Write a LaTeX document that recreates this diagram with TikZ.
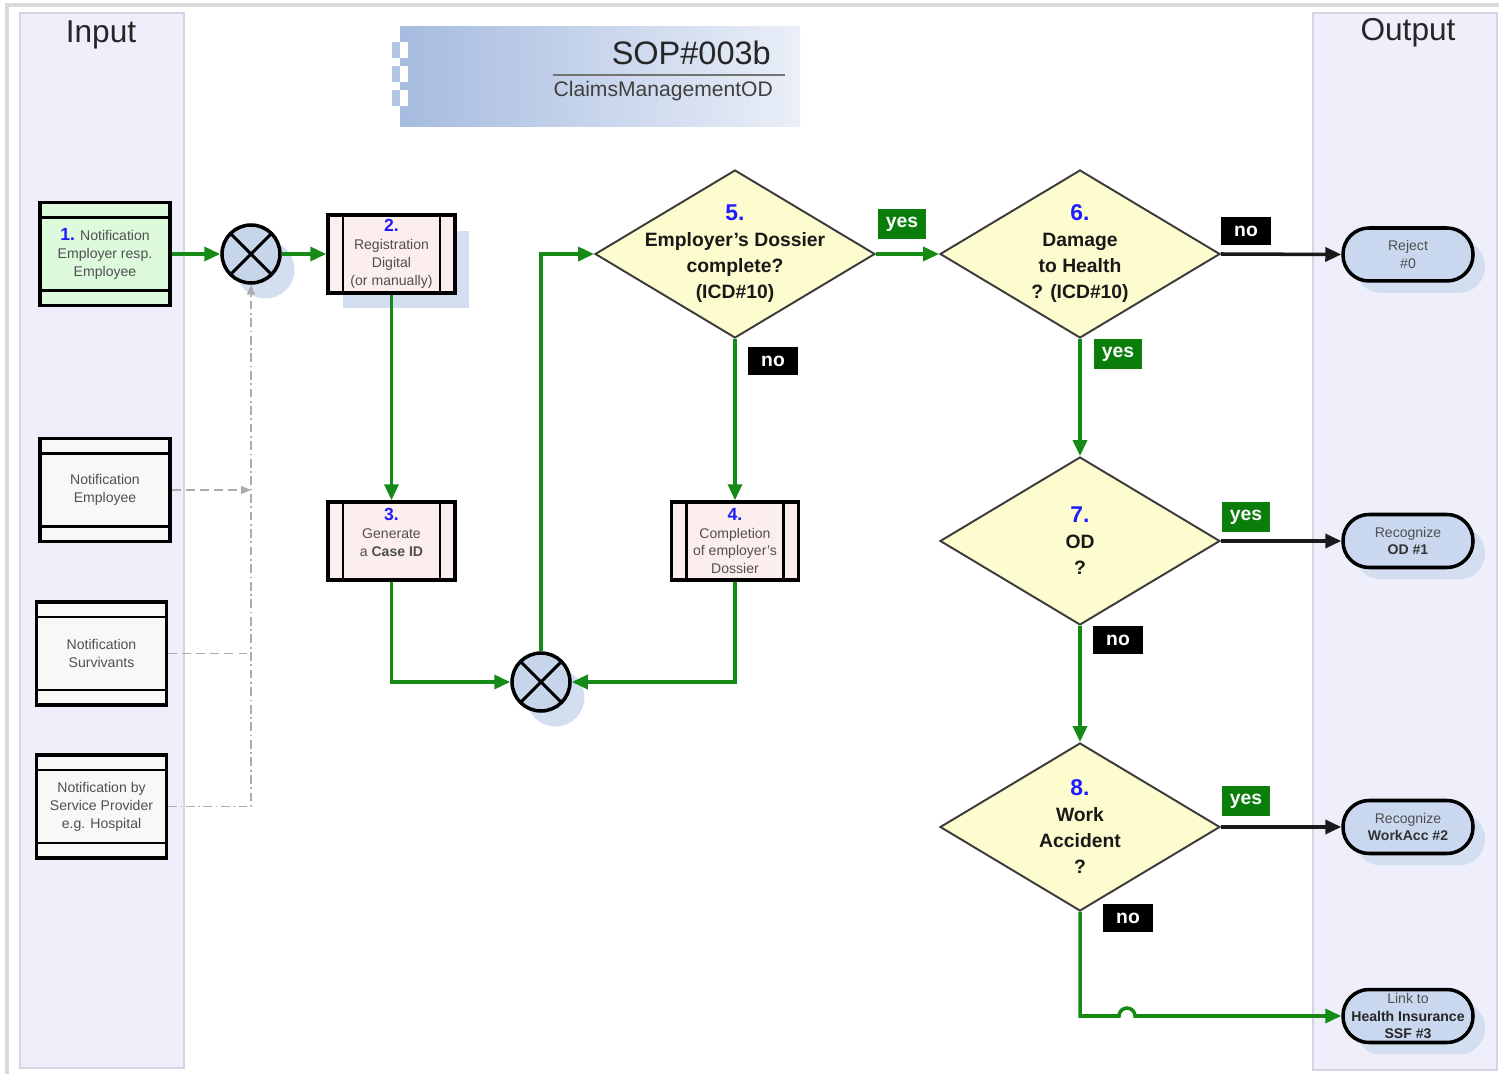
\documentclass[tikz,border=0pt]{standalone}
\usepackage{fontspec}
\setmainfont{Liberation Sans}
\usetikzlibrary{shapes.geometric}
\usetikzlibrary{arrows.meta}
\usetikzlibrary{shadows}
\usepackage{xcolor}

\definecolor{lanefill}{HTML}{EFEFFC}
\definecolor{lanedraw}{HTML}{D4D4E4}
\definecolor{framegray}{HTML}{DADADA}
\definecolor{titleleft}{HTML}{A6BBDF}
\definecolor{titleright}{HTML}{EAEFF8}
\definecolor{inboxfill}{HTML}{F8F8F8}
\definecolor{inboxgreen}{HTML}{DDFADD}
\definecolor{procfill}{HTML}{FDEEEE}
\definecolor{gatefill}{HTML}{C6D5EA}
\definecolor{shadowblue}{HTML}{D3DFF0}
\definecolor{decfill}{HTML}{FCFCCF}
\definecolor{decdraw}{HTML}{3A3A3A}
\definecolor{termfill}{HTML}{C9D8EE}
\definecolor{flowgreen}{HTML}{168A16}
\definecolor{yesgreen}{HTML}{0A7D0A}
\definecolor{numblue}{HTML}{1C1CFF}
\definecolor{boxtext}{HTML}{505050}
\definecolor{dashgray}{HTML}{ABABAB}

\tikzset{
    lane/.style={draw=lanedraw, fill=lanefill, line width=0.6pt},
    lanetitle/.style={font=\fontsize{18}{20}\selectfont, text=black!85},
    inbox/.style={draw, line width=2pt, fill=inboxfill, minimum width=2.6cm,
        minimum height=2.06cm, inner sep=0pt, align=center, text=boxtext,
        font=\fontsize{8}{10.2}\selectfont,
        path picture={\draw[line width=1.5pt]
            ([yshift=-0.3cm]path picture bounding box.north west) --
            ([yshift=-0.3cm]path picture bounding box.north east)
            ([yshift=0.3cm]path picture bounding box.south west) --
            ([yshift=0.3cm]path picture bounding box.south east);}},
    procbox/.style={draw, line width=2pt, fill=procfill, minimum width=2.54cm,
        minimum height=1.56cm, inner sep=0pt, align=center, text=boxtext,
        font=\fontsize{8}{10.2}\selectfont,
        path picture={\draw[line width=1.5pt]
            ([xshift=0.3cm]path picture bounding box.north west) --
            ([xshift=0.3cm]path picture bounding box.south west)
            ([xshift=-0.3cm]path picture bounding box.north east) --
            ([xshift=-0.3cm]path picture bounding box.south east);}},
    gate/.style={circle, draw, line width=2pt, fill=gatefill, minimum size=1.16cm,
        inner sep=0pt,
        path picture={\draw[line width=1.7pt]
            (path picture bounding box.north west) -- (path picture bounding box.south east)
            (path picture bounding box.north east) -- (path picture bounding box.south west);}},
    pshadow/.style={drop shadow={shadow xshift=0.29cm, shadow yshift=-0.31cm,
        fill=shadowblue, opacity=1}},
    decision/.style={diamond, draw=decdraw, line width=1.1pt, fill=decfill,
        minimum width=5.6cm, minimum height=3.36cm, inner sep=0pt},
    dectext/.style={align=center, text=black!90,
        font=\bfseries\fontsize{11}{14.8}\selectfont},
    term/.style={draw, line width=2pt, rounded corners=0.52cm, fill=termfill,
        minimum width=2.6cm, minimum height=1.06cm, inner sep=0pt, align=center,
        text=boxtext, font=\fontsize{8}{10}\selectfont,
        drop shadow={shadow xshift=0.24cm, shadow yshift=-0.24cm,
        fill=shadowblue, opacity=1}},
    yesbox/.style={fill=yesgreen, text=white, font=\bfseries\fontsize{11}{13}\selectfont,
        minimum width=0.96cm, minimum height=0.6cm, inner sep=0pt},
    nobox/.style={fill=black, text=white, font=\bfseries\fontsize{11}{13}\selectfont,
        minimum width=1.0cm, minimum height=0.56cm, inner sep=0pt},
    gline/.style={draw=flowgreen, line width=2pt,
        -{Triangle[length=0.32cm,width=0.28cm]}},
    kline/.style={draw=black!90, line width=2pt,
        -{Triangle[length=0.32cm,width=0.28cm]}},
    dline/.style={draw=dashgray, line width=0.9pt},
}

\begin{document}
\begin{tikzpicture}[x=0.02cm, y=-0.02cm]
    \useasboundingbox (0,0) rectangle (1499,1074);
    % frame and lanes
    \draw[framegray, line width=2pt] (7,1074) -- (7,5) -- (1499,5);
    \draw[lane] (20,13) rectangle (184,1068);
    \draw[lane] (1313,13) rectangle (1497,1070);
    \node[lanetitle] at (101,35) (LIn) {Input};
    \node[lanetitle] at (1408,33) (LOut) {Output};

    % title block
    \shade[left color=titleleft, right color=titleright] (400,27) rectangle (800,127);
    \foreach \yy in {42,66,90} {
        \fill[titleleft!85] (392,\yy) rectangle (400,\yy+16);
        \fill[white] (400,\yy) rectangle (408,\yy+16);
    }
    \draw[black!55, line width=0.8pt] (553,75) -- (785,75);
    \node[anchor=east, font=\fontsize{18.5}{20}\selectfont, text=black!85] at (777,53) (SOP) {SOP\#003b};
    \node[anchor=east, font=\fontsize{12}{14}\selectfont, text=black!75] at (779,91) (CMOD) {ClaimsManagementOD};

    % inputs
    \node[inbox, fill=inboxgreen] at (105,254) (N1) {{\color{numblue}\bfseries\fontsize{10}{10.2}\selectfont 1.} Notification\\Employer resp.\\Employee};
    \node[inbox] at (105,490) (NE) {Notification\\Employee};
    \node[inbox] at (101.5,653.5) (NS) {Notification\\Survivants};
    \node[inbox] at (101.5,806.5) (NP) {Notification by\\Service Provider\\e.g. Hospital};

    % gateways
    \node[gate, pshadow] at (251,254) (G1) {};
    \node[gate, pshadow] at (541,682) (G2) {};

    % process steps
    \node[procbox, pshadow] at (391.5,254) (P2) {{\color{numblue}\bfseries\fontsize{10}{10.2}\selectfont 2.}\\Registration\\Digital\\(or manually)};
    \node[procbox] at (391.5,541) (P3) {{\color{numblue}\bfseries\fontsize{10}{10.2}\selectfont 3.}\\Generate\\a \textbf{Case ID}\\[0pt]};
    \node[procbox] at (735,541) (P4) {{\color{numblue}\bfseries\fontsize{10}{10.2}\selectfont 4.}\\Completion\\of employer's\\Dossier};

    % decisions
    \node[decision] at (735,254) (D5) {};
    \node[dectext] at (735,254) (D5t) {{\color{numblue}\fontsize{13}{14.8}\selectfont 5.}\\Employer's Dossier\\complete?\\(ICD\#10)};
    \node[decision] at (1080,254) (D6) {};
    \node[dectext] at (1080,254) (D6t) {{\color{numblue}\fontsize{13}{14.8}\selectfont 6.}\\Damage\\to Health\\? (ICD\#10)};
    \node[decision] at (1080,541) (D7) {};
    \node[dectext] at (1080,541) (D7t) {{\color{numblue}\fontsize{13}{14.8}\selectfont 7.}\\OD\\?};
    \node[decision] at (1080,827) (D8) {};
    \node[dectext] at (1080,827) (D8t) {{\color{numblue}\fontsize{13}{14.8}\selectfont 8.}\\Work\\Accident\\?};

    % outputs
    \node[term] at (1408,254.5) (T0) {Reject\\\#0};
    \node[term] at (1408,541) (T1) {Recognize\\\textbf{\color{black!80}OD \#1}};
    \node[term] at (1408,827) (T2) {Recognize\\\textbf{\color{black!80}WorkAcc \#2}};
    \node[term] at (1408,1016) (T3) {Link to\\\textbf{\color{black!85}Health Insurance}\\\textbf{\color{black!85}SSF \#3}};

    % flow
    \draw[gline] (N1.east) -- (G1.west);
    \draw[gline] (G1.east) -- (P2.west);
    \draw[gline] (P2.south) -- (P3.north);
    \draw[gline] (P3.south) |- (G2.west);
    \draw[gline] (P4.south) |- (G2.east);
    \draw[gline] (G2.north) |- (D5.west);
    \draw[gline] (D5.south) -- (P4.north);
    \draw[gline] (D5.east) -- (D6.west);
    \draw[kline] (D6.east) -- (T0.west);
    \draw[gline] (D6.south) -- (D7.north);
    \draw[kline] (D7.east) -- (T1.west);
    \draw[gline] (D7.south) -- (D8.north);
    \draw[kline] (D8.east) -- (T2.west);
    \draw[gline] (D8.south) -- (D8.south |- T3.west) -- ++(39,0)
        arc[start angle=180, end angle=0, radius=0.16cm] -- (T3.west);

    % other notifications
    \draw[dline, dash pattern=on 5pt off 3pt, -{Triangle[length=0.2cm,width=0.16cm]}] (NE.east) -- (NE.east -| G1.south);
    \draw[dline, dash pattern=on 5pt off 3pt] (NS.east) -- (NS.east -| G1.south);
    \draw[dline, dash pattern=on 5pt off 2pt on 1pt off 2pt, -{Triangle[length=0.2cm,width=0.16cm]}] (NP.east) -| (G1.south);

    % labels
    \node[yesbox] at (902,224) (Y5) {yes};
    \node[nobox] at (773,361) (N5) {no};
    \node[nobox] at (1246,231) (N6) {no};
    \node[yesbox] at (1118,354) (Y6) {yes};
    \node[yesbox] at (1246,517) (Y7) {yes};
    \node[nobox] at (1118,640) (N7) {no};
    \node[yesbox] at (1246,801) (Y8) {yes};
    \node[nobox] at (1128,918) (N8) {no};
\end{tikzpicture}
\end{document}
